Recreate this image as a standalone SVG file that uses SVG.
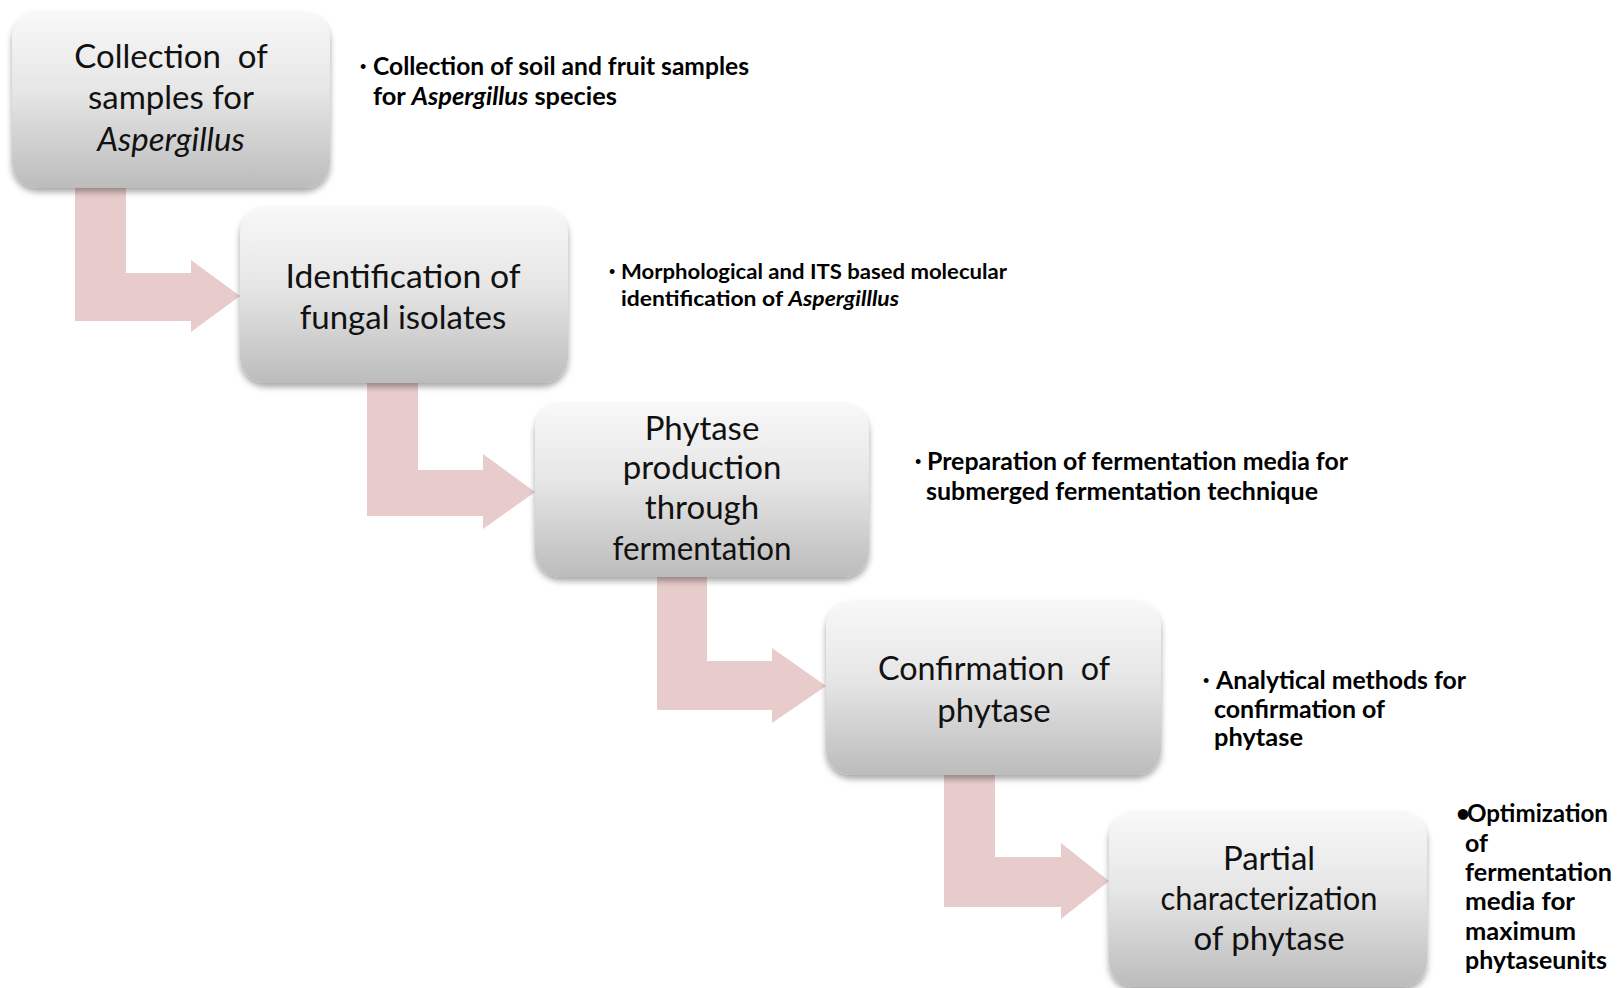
<svg xmlns="http://www.w3.org/2000/svg" width="1619" height="988" viewBox="0 0 1619 988">
<defs>
<linearGradient id="boxg" x1="0" y1="0" x2="0" y2="1">
<stop offset="0" stop-color="#f8f8f8"/>
<stop offset="0.45" stop-color="#e6e6e6"/>
<stop offset="1" stop-color="#bcbcbc"/>
</linearGradient>
<filter id="sh" x="-10%" y="-10%" width="120%" height="125%">
<feDropShadow dx="0" dy="4" stdDeviation="3" flood-color="#000" flood-opacity="0.35"/>
</filter>
<style>
.box{fill:url(#boxg);filter:url(#sh)}
.arr{fill:#e8cccc}
.t{font-family:Lato,"Open Sans",sans-serif;font-size:33px;fill:#111;text-anchor:middle}
.d{font-family:Lato,"Liberation Sans",sans-serif;font-weight:bold;font-size:24px;fill:#000}
.ds{font-family:Lato,"Liberation Sans",sans-serif;font-weight:bold;font-size:21px;fill:#000}
.b{font-family:"Liberation Sans",sans-serif;font-size:18px;fill:#000}
</style>
</defs>
<g id="connectors">
<polygon class="arr" points="75,180 126,180 126,273 191,273 191,260 240,296 191,332 191,321 75,321"/>
<polygon class="arr" points="367,375 418,375 418,470 483,470 483,454 535,492 483,529 483,516 367,516"/>
<polygon class="arr" points="657,570 707,570 707,661 772,661 772,648 826,686 772,723 772,710 657,710"/>
<polygon class="arr" points="944,765 995,765 995,857 1061,857 1061,843 1109,881 1061,919 1061,907 944,907"/>
</g>
<g id="n1">
<rect class="box" x="12" y="12" width="318" height="176" rx="26"/>
<text class="t" xml:space="preserve"><tspan x="171" y="68">Collection  of</tspan><tspan x="171" y="109">samples for</tspan><tspan x="171" y="151" font-style="italic">Aspergillus</tspan></text>
</g>
<g id="n2">
<rect class="box" x="240" y="207" width="328" height="176" rx="26"/>
<text class="t"><tspan x="403" y="288" textLength="235" lengthAdjust="spacingAndGlyphs">Identification of</tspan><tspan x="403" y="329">fungal isolates</tspan></text>
</g>
<g id="n3">
<rect class="box" x="535" y="403" width="334" height="174" rx="26"/>
<text class="t"><tspan x="702" y="440">Phytase</tspan><tspan x="702" y="479">production</tspan><tspan x="702" y="519">through</tspan><tspan x="702" y="560" textLength="179" lengthAdjust="spacingAndGlyphs">fermentation</tspan></text>
</g>
<g id="n4">
<rect class="box" x="826" y="601" width="335" height="174" rx="26"/>
<text class="t" xml:space="preserve"><tspan x="994" y="680" textLength="232" lengthAdjust="spacingAndGlyphs">Confirmation  of</tspan><tspan x="994" y="722">phytase</tspan></text>
</g>
<g id="n5">
<rect class="box" x="1109" y="812" width="318" height="175" rx="26"/>
<text class="t"><tspan x="1269" y="870">Partial</tspan><tspan x="1269" y="910" textLength="217" lengthAdjust="spacingAndGlyphs">characterization</tspan><tspan x="1269" y="950">of phytase</tspan></text>
</g>
<g id="desc1">
<text class="b" x="360" y="73">•</text>
<text class="d" x="373" y="75" textLength="376" lengthAdjust="spacingAndGlyphs">Collection of soil and fruit samples</text>
<text class="d" x="373" y="105" textLength="244" lengthAdjust="spacingAndGlyphs">for <tspan font-style="italic">Aspergillus</tspan> species</text>
</g>
<g id="desc2">
<text class="b" x="609" y="278">•</text>
<text class="ds" x="621" y="279" textLength="386" lengthAdjust="spacingAndGlyphs">Morphological and ITS based molecular</text>
<text class="ds" x="621" y="306" textLength="278" lengthAdjust="spacingAndGlyphs">identification of <tspan font-style="italic">Aspergilllus</tspan></text>
</g>
<g id="desc3">
<text class="b" x="915" y="468">•</text>
<text class="d" x="927" y="470" textLength="421" lengthAdjust="spacingAndGlyphs">Preparation of fermentation media for</text>
<text class="d" x="926" y="500" textLength="392" lengthAdjust="spacingAndGlyphs">submerged fermentation technique</text>
</g>
<g id="desc4">
<text class="b" x="1203" y="687">•</text>
<text class="d" x="1216" y="689" textLength="250" lengthAdjust="spacingAndGlyphs">Analytical methods for</text>
<text class="d" x="1214" y="718" textLength="171" lengthAdjust="spacingAndGlyphs">confirmation of</text>
<text class="d" x="1214" y="746" textLength="89" lengthAdjust="spacingAndGlyphs">phytase</text>
</g>
<g id="desc5">
<text class="d" x="1456" y="822">•</text>
<text class="d" x="1467" y="822" textLength="141" lengthAdjust="spacingAndGlyphs">Optimization</text>
<text class="d" x="1465" y="852" textLength="23" lengthAdjust="spacingAndGlyphs">of</text>
<text class="d" x="1465" y="881" textLength="147" lengthAdjust="spacingAndGlyphs">fermentation</text>
<text class="d" x="1465" y="910" textLength="110" lengthAdjust="spacingAndGlyphs">media for</text>
<text class="d" x="1465" y="940" textLength="111" lengthAdjust="spacingAndGlyphs">maximum</text>
<text class="d" x="1465" y="969" textLength="142" lengthAdjust="spacingAndGlyphs">phytaseunits</text>
</g>
</svg>
